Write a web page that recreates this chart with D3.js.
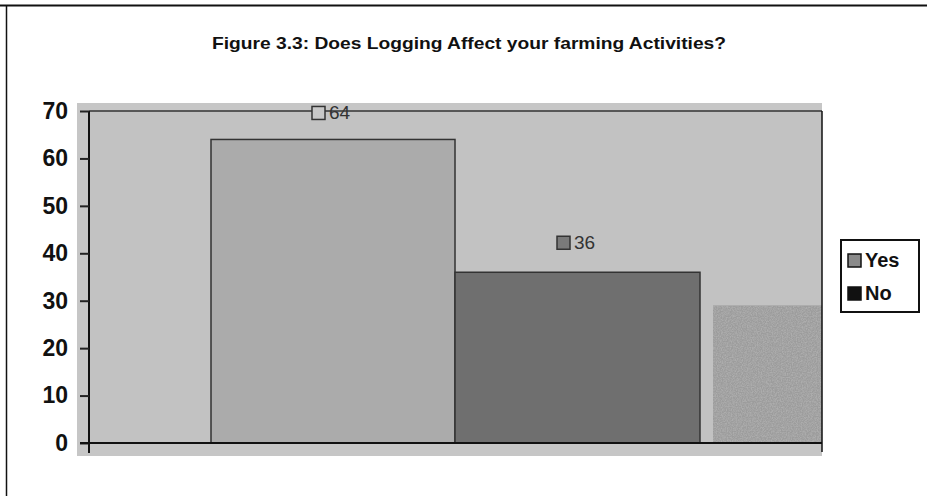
<!DOCTYPE html>
<html>
<head>
<meta charset="utf-8">
<script src="https://cdn.jsdelivr.net/npm/d3@7"></script>
<style>
  body { margin: 0; background: #fff; }
  text { font-family: "Liberation Sans", Arial, sans-serif; }
</style>
</head>
<body>
<svg id="paper"></svg>
<script>
(function () {
    // values
    var categories = ["Yes", "No", ""];
    var values = [64, 36, 29];
    var barColors = ["#ababab", "#6f6f6f", "#9c9c9c"];
    var yTicks = [0, 10, 20, 30, 40, 50, 60, 70];
    var legendNames = ["Yes", "No"];
    var legendColors = ["#8a8a8a", "#111111"];
    var title = "Figure 3.3: Does Logging Affect your farming Activities?";

    var width = 927,
        height = 496;

    var svg = d3.select('#paper')
        .attr('width', width)
        .attr('height', height);

    // noise pattern for the scanned third block
    var defs = svg.append("defs");
    var filt = defs.append("filter").attr("id", "noise")
        .attr("x", 0).attr("y", 0).attr("width", "100%").attr("height", "100%");
    filt.append("feTurbulence").attr("type", "fractalNoise")
        .attr("baseFrequency", 0.8).attr("numOctaves", 3).attr("result", "n");
    filt.append("feColorMatrix").attr("type", "matrix")
        .attr("values", "0 0 0 0 0.42  0 0 0 0 0.42  0 0 0 0 0.42  0 0 0 -2.4 1.6");

    // page frame
    svg.append("line").attr("x1", 0).attr("x2", width).attr("y1", 5.5).attr("y2", 5.5)
        .attr("stroke", "#111").attr("stroke-width", 2);
    svg.append("line").attr("x1", 6.5).attr("x2", 6.5).attr("y1", 5).attr("y2", height)
        .attr("stroke", "#111").attr("stroke-width", 1.5);

    svg.append("text")
        .attr("x", 212).attr("y", 49)
        .attr("font-size", 17)
        .attr("font-weight", "bold")
        .attr("fill", "#111")
        .attr("textLength", 514)
        .attr("lengthAdjust", "spacingAndGlyphs")
        .text(title);

    var left = 89, right = 822, top = 111, bottom = 443;

    var y = d3.scaleLinear()
        .domain([0, 70])
        .range([bottom, top]);

    // plot background
    svg.append("rect")
        .attr("x", 77).attr("y", 103)
        .attr("width", right - 77).attr("height", 353)
        .attr("fill", "#c6c6c6");
    svg.append("rect")
        .attr("x", left).attr("y", top)
        .attr("width", right - left).attr("height", bottom - top)
        .attr("fill", "#c2c2c2");

    // bars
    var bw = [244, 245, 109];
    var bx = [211, 455, 713];
    svg.selectAll("rect.bar")
        .data(values)
        .enter().append("rect")
        .attr("class", "bar")
        .attr("x", function (d, i) { return bx[i]; })
        .attr("y", function (d) { return y(d); })
        .attr("width", function (d, i) { return bw[i]; })
        .attr("height", function (d) { return y(0) - y(d); })
        .attr("fill", function (d, i) { return barColors[i]; })
        .attr("stroke", function (d, i) { return i < 2 ? "#333" : "none"; })
        .attr("stroke-width", 1.5);

    svg.append("rect")
        .attr("x", bx[2]).attr("y", y(values[2]))
        .attr("width", bw[2]).attr("height", y(0) - y(values[2]))
        .attr("filter", "url(#noise)");

    // frame of plot
    svg.append("line").attr("x1", left).attr("x2", right).attr("y1", top).attr("y2", top)
        .attr("stroke", "#333").attr("stroke-width", 1.5);
    svg.append("line").attr("x1", right).attr("x2", right).attr("y1", top).attr("y2", 452)
        .attr("stroke", "#111").attr("stroke-width", 1.5);

    var yAxis = svg.append("g")
        .attr("transform", "translate(" + left + ",0)")
        .call(d3.axisLeft(y).tickValues(yTicks).tickSize(9).tickPadding(12));
    yAxis.select(".domain").attr("stroke", "#111").attr("stroke-width", 2)
        .attr("d", "M0," + top + "V" + (bottom + 10));
    yAxis.selectAll(".tick line").attr("stroke", "#222").attr("stroke-width", 2);
    yAxis.selectAll(".tick text")
        .attr("font-size", 23).attr("font-weight", "bold").attr("fill", "#111")
        .attr("font-family", "Liberation Sans, Arial, sans-serif");

    svg.append("line").attr("x1", 80).attr("x2", right).attr("y1", bottom).attr("y2", bottom)
        .attr("stroke", "#111").attr("stroke-width", 2);

    // value labels
    var lab = svg.selectAll("g.lab")
        .data(values.slice(0, 2))
        .enter().append("g")
        .attr("class", "lab")
        .attr("transform", function (d, i) {
            return "translate(" + (i === 0 ? 312 : 557) + "," + (y(d) - (i === 0 ? 20 : 23)) + ")";
        });
    lab.append("rect")
        .attr("x", 0).attr("y", -13).attr("width", 13).attr("height", 13)
        .attr("fill", function (d, i) { return i === 0 ? "#c8c8c8" : "#7a7a7a"; })
        .attr("stroke", "#333").attr("stroke-width", 1.5);
    lab.append("text")
        .attr("x", 17).attr("y", 0)
        .attr("font-size", 19)
        .attr("fill", "#333")
        .text(function (d) { return d; });

    // legend
    var lg = svg.append("g").attr("transform", "translate(841,240)");
    lg.append("rect").attr("width", 78).attr("height", 72)
        .attr("fill", "#fff").attr("stroke", "#111").attr("stroke-width", 2);
    var item = lg.selectAll("g.item")
        .data(legendNames)
        .enter().append("g")
        .attr("class", "item")
        .attr("transform", function (d, i) { return "translate(7," + (27 + i * 33) + ")"; });
    item.append("rect")
        .attr("x", 0).attr("y", -13).attr("width", 13).attr("height", 13)
        .attr("fill", function (d, i) { return legendColors[i]; })
        .attr("stroke", "#111").attr("stroke-width", 1.5);
    item.append("text")
        .attr("x", 17).attr("y", 0)
        .attr("font-size", 20).attr("font-weight", "bold").attr("fill", "#111")
        .text(function (d) { return d; });
})();
</script>
</body>
</html>
